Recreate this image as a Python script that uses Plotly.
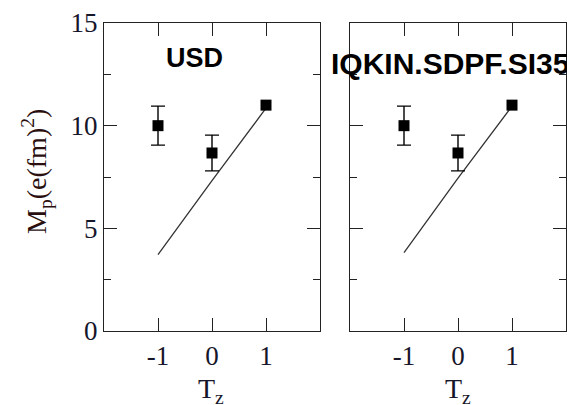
import plotly.graph_objects as go

# Isospin projection T_z and proton matrix element M_p
tz = [-1, 0, 1]
tz_ticks = [-1, 0, 1]
tz_tick_text = ["-1", "0", "1"]
mp_ticks = [0, 5, 10, 15]
mp_minor_ticks = [2.5, 7.5, 12.5]

# Experimental values with uncertainties (same in both panels);
# a zero uncertainty means no error bar is drawn for that point
mp_exp = [10.0, 8.67, 11.0]
mp_exp_err = [0.95, 0.87, 0.0]

# Shell-model calculations
mp_usd = [3.72, 7.32, 10.85]
mp_sdpf = [3.82, 7.45, 10.95]

panel_labels = ["USD", "IQKIN.SDPF.SI35"]

W, H = 567, 405


def px_x(p):
    return p / W


def px_y(p):
    return (H - p) / H


INK = "#222222"
TEXT = "#16162a"
TITLE = "#2a0f0f"
serif = "Liberation Serif"

# points that carry an error bar
err_idx = [k for k, e in enumerate(mp_exp_err) if e > 0]

fig = go.Figure()

for i, calc in enumerate([mp_usd, mp_sdpf]):
    xa = "x" if i == 0 else "x2"
    ya = "y" if i == 0 else "y2"
    fig.add_trace(go.Scatter(
        x=tz, y=calc, mode="lines", xaxis=xa, yaxis=ya,
        line=dict(color="#333333", width=1.3), showlegend=False,
    ))
    fig.add_trace(go.Scatter(
        x=[tz[k] for k in err_idx], y=[mp_exp[k] for k in err_idx],
        mode="markers", xaxis=xa, yaxis=ya,
        marker=dict(size=1, color="rgba(0,0,0,0)"),
        error_y=dict(type="data", array=[mp_exp_err[k] for k in err_idx],
                     visible=True, color="black", thickness=1.4, width=7),
        showlegend=False,
    ))
    fig.add_trace(go.Scatter(
        x=tz, y=mp_exp, mode="markers", xaxis=xa, yaxis=ya,
        marker=dict(symbol="square", size=11, color="black"),
        showlegend=False,
    ))

x_domains = [[px_x(104), px_x(320)], [px_x(350), px_x(566)]]
y_domain = [px_y(331), px_y(23)]

common_x = dict(
    range=[-2, 2], tickmode="array", tickvals=tz_ticks, ticktext=tz_tick_text,
    ticks="inside", ticklen=13, tickwidth=1.3, tickcolor=INK,
    showline=True, linecolor=INK, linewidth=1.3, mirror="allticks",
    showgrid=False, zeroline=False, automargin=False,
    tickfont=dict(family=serif, size=27, color=TEXT),
)
common_y = dict(
    range=[0, 15], tickmode="array", tickvals=mp_ticks,
    ticks="inside", ticklen=13, tickwidth=1.3, tickcolor=INK,
    minor=dict(tickmode="array", tickvals=mp_minor_ticks, ticks="inside",
               ticklen=7, tickwidth=1.3, tickcolor=INK),
    showline=True, linecolor=INK, linewidth=1.3, mirror="allticks",
    showgrid=False, zeroline=False, domain=y_domain, automargin=False,
    tickfont=dict(family=serif, size=27, color=TEXT),
)

fig.update_layout(
    width=W, height=H,
    margin=dict(l=0, r=0, t=0, b=0, pad=0, autoexpand=False),
    paper_bgcolor="white", plot_bgcolor="white",
    xaxis=dict(common_x, domain=x_domains[0], anchor="y"),
    xaxis2=dict(common_x, domain=x_domains[1], anchor="y2"),
    yaxis=dict(common_y, anchor="x"),
    yaxis2=dict(common_y, anchor="x2", showticklabels=False),
)

annotations = [
    # axis titles
    dict(text="M<sub>p</sub>(e(fm)<sup>2</sup>)", x=px_x(36), y=px_y(172),
         textangle=-90, font=dict(family=serif, size=28, color=TITLE)),
    dict(text="T<sub>z</sub>", x=px_x(211), y=px_y(390),
         font=dict(family=serif, size=28, color=TEXT)),
    dict(text="T<sub>z</sub>", x=px_x(458), y=px_y(390),
         font=dict(family=serif, size=28, color=TEXT)),
    # panel labels
    dict(text="<b>%s</b>" % panel_labels[0], x=px_x(194), y=px_y(58),
         font=dict(family="Liberation Sans", size=27, color="black")),
    dict(text="<b>%s</b>" % panel_labels[1], x=px_x(329), y=px_y(64),
         xanchor="left",
         font=dict(family="Liberation Sans", size=30, color="black")),
]
for a in annotations:
    a.setdefault("xanchor", "center")
    a.setdefault("yanchor", "middle")
    a.update(xref="paper", yref="paper", showarrow=False)
fig.update_layout(annotations=annotations)

fig.write_html("out.html")
